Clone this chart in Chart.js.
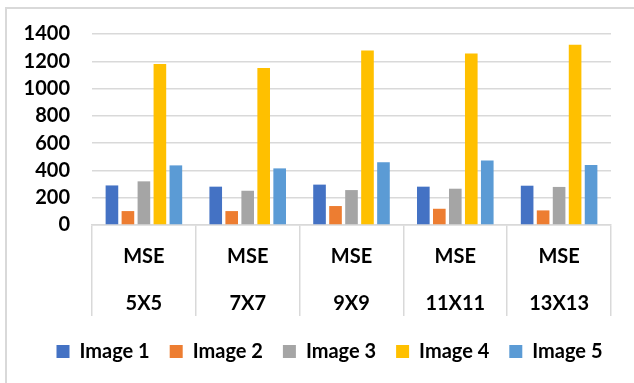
<!DOCTYPE html>
<html>
<head>
<meta charset="utf-8">
<script src="https://cdn.jsdelivr.net/npm/chart.js@4.4.1/dist/chart.umd.min.js"></script>
<style>
  html, body { margin: 0; padding: 0; background: #fff; }
  #frame {
    position: absolute; left: 5px; top: 7px; width: 700px; height: 500px;
    border: 2px solid #d9d9d9; box-sizing: border-box;
  }
  #wrap { position: absolute; left: 0; top: 0; width: 634px; height: 383px; }
</style>
</head>
<body>
<div id="frame"></div>
<div id="wrap"><canvas id="chart" width="634" height="383"></canvas></div>
<script>
// Window sizes and MSE per test image
const metric = 'MSE';
const windowSizes = ['5X5', '7X7', '9X9', '11X11', '13X13'];
const image1 = [290, 281, 296, 281, 288];
const image2 = [102, 102, 139, 119, 107];
const image3 = [320, 251, 256, 266, 279];
const image4 = [1180, 1150, 1279, 1257, 1322];
const image5 = [437, 415, 460, 472, 440];
const seriesNames = ['Image 1', 'Image 2', 'Image 3', 'Image 4', 'Image 5'];
const yTicks = [0, 200, 400, 600, 800, 1000, 1200, 1400];

const colors = ['#4472C4', '#ED7D31', '#A5A5A5', '#FFC000', '#5B9BD5'];
const seriesValues = [image1, image2, image3, image4, image5];

const font = { family: 'Lato', weight: 'bold', size: 20 };

// nudge the legend row a little to the right of the canvas centre
const legendShift = {
  id: 'legendShift',
  afterLayout(chart) {
    const lg = chart.legend;
    if (lg) { lg.left += 12; lg.right += 12; }
  }
};

new Chart(document.getElementById('chart'), {
  type: 'bar',
  data: {
    labels: windowSizes.map(w => [metric, w]),
    datasets: seriesValues.map((vals, i) => ({
      label: seriesNames[i],
      data: vals,
      backgroundColor: colors[i],
      borderWidth: 0,
      barPercentage: 0.79,
      categoryPercentage: 0.77
    }))
  },
  plugins: [legendShift],
  options: {
    responsive: false,
    animation: false,
    layout: { padding: { left: 24, right: 23, top: 33.5, bottom: 11.5 } },
    plugins: {
      tooltip: { enabled: false },
      legend: {
        position: 'bottom',
        labels: {
          color: '#000',
          font: font,
          boxWidth: 13,
          boxHeight: 13,
          padding: 20
        }
      }
    },
    scales: {
      x: {
        border: { display: true, color: '#d9d9d9', width: 1.5 },
        grid: {
          display: true,
          offset: true,
          drawOnChartArea: false,
          drawTicks: true,
          tickLength: 91,
          color: '#d9d9d9',
          lineWidth: 1.5
        },
        ticks: {
          color: '#000',
          font: Object.assign({}, font, { lineHeight: 2.35 }),
          padding: -83,
          maxRotation: 0,
          autoSkip: false
        },
        // the two label rows sit inside the separator lines, so reserve a fixed band
        afterFit: scale => { scale.height = 96.5; }
      },
      y: {
        min: 0,
        max: 1400,
        afterBuildTicks: axis => { axis.ticks = yTicks.map(v => ({ value: v })); },
        afterFit: axis => { axis.width = 68; },
        border: { display: false },
        grid: { color: '#d9d9d9', lineWidth: 1.5, drawTicks: false },
        ticks: { color: '#000', font: font, padding: 22, callback: v => String(v) }
      }
    }
  }
});
</script>
</body>
</html>
